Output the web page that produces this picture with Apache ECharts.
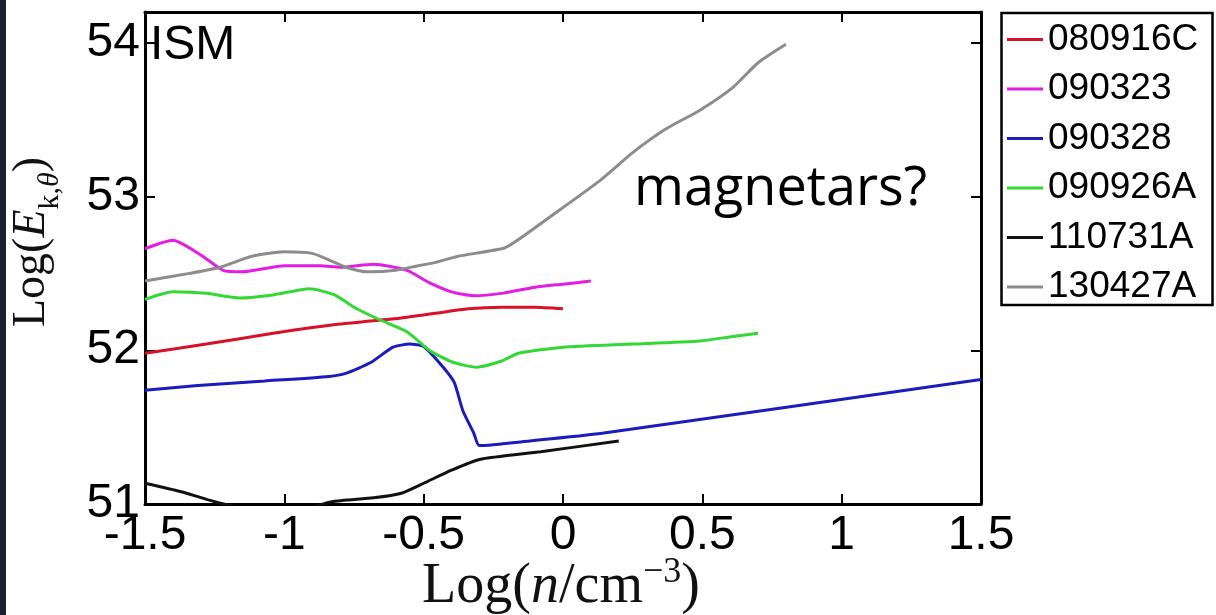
<!DOCTYPE html>
<html>
<head>
<meta charset="utf-8">
<script src="https://cdn.jsdelivr.net/npm/echarts@6/dist/echarts.min.js"></script>
<style>
  html, body { margin: 0; padding: 0; background: #fff; }
  #chart { width: 1216px; height: 615px; }
</style>
</head>
<body>
<div id="chart"></div>
<script>
// Burst names and line colours
const bursts = ['080916C', '090323', '090328', '090926A', '110731A', '130427A'];
const colors = ['#d8102a', '#e21ee2', '#1c1cbc', '#34d834', '#111111', '#8c8c8c'];

// Tick values shown on each axis
const xTicks = [-1.5, -1, -0.5, 0, 0.5, 1, 1.5];
const yTicks = [51, 52, 53, 54];

// Log(E_k,θ) against Log(n/cm^-3), one [x, y] list per burst
const e080916C = [[-1.5, 51.98], [-1.28, 52.04], [-1.04, 52.11], [-0.8, 52.17], [-0.58, 52.21],
  [-0.46, 52.24], [-0.34, 52.27], [-0.22, 52.28], [-0.1, 52.28], [0, 52.27]];
const e090323 = [[-1.5, 52.66], [-1.4, 52.715], [-1.3, 52.62], [-1.22, 52.52], [-1.15, 52.51],
  [-1.0, 52.55], [-0.87, 52.55], [-0.8, 52.54], [-0.68, 52.56], [-0.56, 52.52], [-0.48, 52.44],
  [-0.4, 52.38], [-0.32, 52.355], [-0.22, 52.37], [-0.1, 52.41], [0, 52.43], [0.1, 52.45]];
const e090328 = [[-1.5, 51.74], [-1.31, 51.77], [-1.07, 51.80], [-0.84, 51.83], [-0.78, 51.85],
  [-0.69, 51.92], [-0.61, 52.02], [-0.55, 52.04], [-0.5, 52.025], [-0.43, 51.89], [-0.39, 51.79],
  [-0.36, 51.61], [-0.32, 51.46], [-0.3, 51.38], [-0.12, 51.41], [0.14, 51.46], [1.5, 51.81]];
const e090926A = [[-1.5, 52.33], [-1.4, 52.38], [-1.28, 52.37], [-1.16, 52.34], [-1.04, 52.36],
  [-0.91, 52.40], [-0.82, 52.36], [-0.74, 52.27], [-0.66, 52.20], [-0.56, 52.12], [-0.48, 52.00],
  [-0.4, 51.925], [-0.31, 51.89], [-0.22, 51.93], [-0.16, 51.98], [0, 52.02], [0.25, 52.04],
  [0.49, 52.06], [0.61, 52.09], [0.7, 52.11]];
const e110731A = [[-1.5, 51.135], [-1.37, 51.08], [-1.25, 51.015], [-1.1, 50.96], [-0.95, 50.96],
  [-0.83, 51.015], [-0.68, 51.04], [-0.58, 51.07], [-0.5, 51.135], [-0.4, 51.22], [-0.3, 51.29],
  [-0.08, 51.34], [0.2, 51.41]];
const e130427A = [[-1.5, 52.45], [-1.34, 52.50], [-1.23, 52.54], [-1.12, 52.61], [-1.0, 52.64],
  [-0.9, 52.63], [-0.83, 52.58], [-0.78, 52.54], [-0.7, 52.51], [-0.6, 52.52], [-0.52, 52.55],
  [-0.46, 52.57], [-0.38, 52.61], [-0.21, 52.665], [-0.16, 52.72], [-0.06, 52.85], [0.13, 53.10],
  [0.25, 53.285], [0.37, 53.44], [0.49, 53.56], [0.61, 53.71], [0.7, 53.87], [0.8, 53.99]];

const seriesData = [e080916C, e090323, e090328, e090926A, e110731A, e130427A];

const chart = echarts.init(document.getElementById('chart'), null, { renderer: 'canvas' });

const axisLine = { show: true, onZero: false, lineStyle: { color: '#000', width: 3 } };
const tickIn = { show: true, inside: true, length: 10, lineStyle: { color: '#000', width: 2 } };
const sans = 'Liberation Sans, Arial, sans-serif';
const serif = 'Liberation Serif, Times New Roman, serif';

function tickLabel(list) {
  return v => list.some(t => Math.abs(t - v) < 1e-9) ? String(v) : '';
}

const option = {
  animation: false,
  backgroundColor: '#ffffff',
  grid: { left: 145, top: 12, right: 235, bottom: 111, containLabel: false },
  xAxis: [
    {
      type: 'value', min: -1.5, max: 1.5, interval: 0.5, position: 'bottom',
      axisLine, axisTick: tickIn, splitLine: { show: false },
      axisLabel: { formatter: tickLabel(xTicks), color: '#000', fontFamily: sans, fontSize: 48, margin: 8 }
    },
    {
      type: 'value', min: -1.5, max: 1.5, interval: 0.5, position: 'top',
      axisLine, axisTick: tickIn, splitLine: { show: false }, axisLabel: { show: false }
    }
  ],
  yAxis: [
    {
      type: 'value', min: 51, max: 54.2, interval: 1, position: 'left',
      axisLine, axisTick: tickIn, splitLine: { show: false },
      axisLabel: { formatter: tickLabel(yTicks), color: '#000', fontFamily: sans, fontSize: 48, margin: 5 }
    },
    {
      type: 'value', min: 51, max: 54.2, interval: 1, position: 'right',
      axisLine, axisTick: tickIn, splitLine: { show: false }, axisLabel: { show: false }
    }
  ],
  legend: {
    data: bursts,
    orient: 'vertical',
    left: 1007, top: 21,
    padding: 0,
    itemGap: 12.5,
    itemWidth: 36, itemHeight: 3,
    icon: 'rect',
    z: 10,
    textStyle: { color: '#000', fontFamily: sans, fontSize: 37, lineHeight: 36, height: 36 }
  },
  series: bursts.map((name, i) => ({
    name, type: 'line',
    data: seriesData[i],
    xAxisIndex: 0, yAxisIndex: 0,
    showSymbol: false, symbol: 'none',
    smooth: 0.2,
    clip: true,
    lineStyle: { color: colors[i], width: 3 },
    itemStyle: { color: colors[i] }
  })),
  graphic: [
    // dark strip along the left edge
    { type: 'rect', z: 0, shape: { x: 0, y: 0, width: 6, height: 615 }, style: { fill: '#1b2130' } },
    // legend frame
    { type: 'rect', z: 1, shape: { x: 1001.5, y: 13, width: 211, height: 292 },
      style: { fill: '#fff', stroke: '#000', lineWidth: 2.5 } },
    // panel tag
    { type: 'text', z: 20, x: 150, y: 22,
      style: { text: 'ISM', font: '48px ' + sans, fill: '#000', align: 'left', verticalAlign: 'top' } },
    // annotation
    { type: 'text', z: 20, x: 634, y: 190,
      style: { text: 'magnetars?', font: '54px "Open Sans", sans-serif', fill: '#000', align: 'left', verticalAlign: 'middle' } },
    // x-axis title
    { type: 'text', z: 20, x: 561, y: 585,
      style: {
        text: '{r|Log(}{i|n}{r|/cm}{s|−3}{r|)}',
        align: 'center', verticalAlign: 'middle',
        rich: {
          r: { fontFamily: serif, fontSize: 56, lineHeight: 60, verticalAlign: 'bottom', fill: '#111' },
          i: { fontFamily: serif, fontStyle: 'italic', fontSize: 56, lineHeight: 60, verticalAlign: 'bottom', fill: '#111' },
          s: { fontFamily: serif, fontSize: 36, lineHeight: 60, verticalAlign: 'top', fill: '#111' }
        }
      } },
    // y-axis title
    { type: 'text', z: 20, x: 37, y: 242, rotation: Math.PI / 2,
      style: {
        text: '{r|Log(}{i|E}{b|k,}{bi|θ}{r|)}',
        align: 'center', verticalAlign: 'middle',
        rich: {
          r: { fontFamily: serif, fontSize: 46, lineHeight: 56, verticalAlign: 'top', fill: '#111' },
          i: { fontFamily: serif, fontStyle: 'italic', fontSize: 46, lineHeight: 56, verticalAlign: 'top', fill: '#111' },
          b: { fontFamily: serif, fontSize: 30, lineHeight: 56, verticalAlign: 'bottom', fill: '#111' },
          bi: { fontFamily: serif, fontStyle: 'italic', fontSize: 30, lineHeight: 56, verticalAlign: 'bottom', fill: '#111' }
        }
      } }
  ]
};

chart.setOption(option);
</script>
</body>
</html>
